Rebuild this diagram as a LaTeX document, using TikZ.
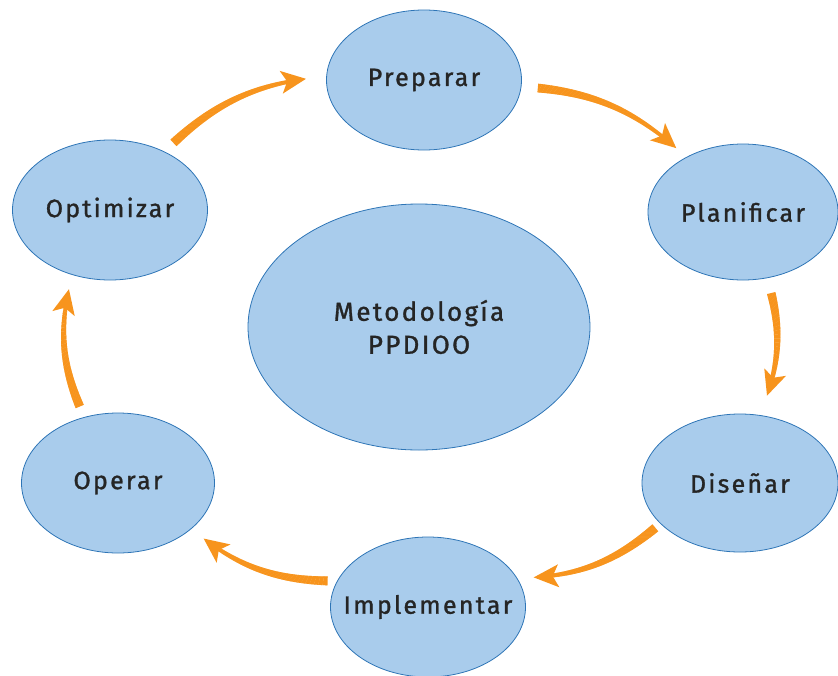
\documentclass[tikz,border=0pt]{standalone}
\usepackage{fontspec}
\setmainfont{Fira Sans}[LetterSpace=9, FakeBold=1.2]
\usetikzlibrary{shapes.geometric,decorations.markings}
\definecolor{bfill}{HTML}{A9CCEC}
\definecolor{bline}{HTML}{2E75B6}
\definecolor{orng}{HTML}{F7941D}
\definecolor{txt}{HTML}{252525}
\newcommand{\tx}[1]{\makebox[0pt][c]{#1}}
\begin{document}
\begin{tikzpicture}[x=1pt,y=-1pt,
  phase/.style={ellipse, draw=bline, line width=0.8pt, fill=bfill, inner sep=0pt,
    text=txt, font=\fontsize{25}{33}\selectfont, align=center,
    minimum width=195pt, minimum height=140pt},
  flow/.style n args={3}{bend left=20, decorate, decoration={markings,
    mark=between positions #1 and -#2 step 0.8pt with {%
      \pgfmathsetmacro\rr{4.7-3.6*(\pgfkeysvalueof{/pgf/decoration/mark info/distance from start})/(\pgfdecoratedpathlength)}%
      \fill[orng] (-0.6pt,-\rr pt) rectangle (0.6pt,\rr pt);},
    mark=at position -#3 with {%
      \fill[orng] (0pt,0pt) -- (-25pt,11.5pt) -- (-19pt,0pt) -- (-25pt,-11.5pt) -- cycle;}}}]
\useasboundingbox (0,0) rectangle (838,675);
\node[phase] (prep) at (424,80) {\tx{Preparar}};
\node[phase, minimum width=190pt, minimum height=136pt] (plan) at (743,212) {\tx{Planificar}};
\node[phase, minimum width=196pt, minimum height=138pt] (dis) at (740,483) {\tx{Diseñar}};
\node[phase] (impl) at (428,607) {\tx{Implementar}};
\node[phase, minimum width=193pt] (oper) at (118,483) {\tx{Operar}};
\node[phase] (opt) at (110,210) {\tx{Optimizar}};
\node[phase, font=\fontsize{26}{33}\selectfont, minimum width=342pt, minimum height=246pt] (core) at (419,327) {Metodología\\PPDIOO};
\path[flow={17pt}{32pt}{14pt}] (prep.356) to (plan.136.7);
\path[flow={16pt}{39pt}{21pt}] (plan.290.3) to (dis.74);
\path[flow={7pt}{35pt}{17pt}] (dis.207.4) to (impl.18);
\path[flow={10pt}{34pt}{16pt}] (impl.164.5) to (oper.328.2);
\path[flow={12pt}{33pt}{15pt}] (oper.117.8) to (opt.240);
\path[flow={13pt}{39pt}{21pt}] (opt.47.2) to (prep.178);
\end{tikzpicture}
\end{document}
